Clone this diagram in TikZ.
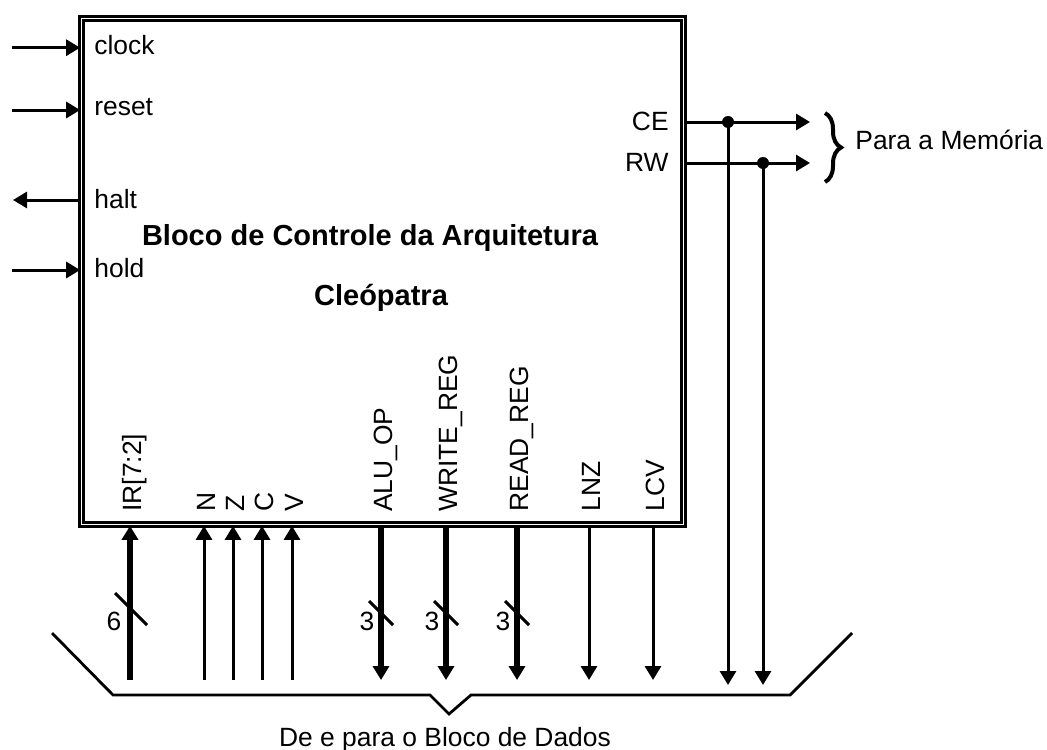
\documentclass[tikz,border=0pt]{standalone}
\usepackage{fontspec}
\setmainfont{Liberation Sans}
\usetikzlibrary{arrows.meta,positioning,calc,decorations.pathreplacing}

\begin{document}
\begin{tikzpicture}[x=0.5pt,y=-0.5pt,font=\fontsize{13.2}{15}\selectfont,
  sig/.style={line width=1.5pt,-{Triangle[length=7pt,width=8pt]}},
  bus/.style={sig,line width=2.8pt},
  lbl/.style={inner sep=0pt},
  vlbl/.style={inner sep=0pt,rotate=90,anchor=base west},
  ttl/.style={inner sep=0pt,anchor=base,font=\fontsize{14.5}{17}\selectfont\bfseries},
  dot/.style={circle,fill,inner sep=0pt,minimum size=6pt},
  tick/.style={line width=1.5pt}]
\useasboundingbox (0,0) rectangle (1047,749);
% control block
\node[draw,double,line width=1.35pt,double distance=0.9pt,inner sep=0pt,
  minimum width=301pt,minimum height=253pt] (ctrl) at (382.5,271.5) {};
\node[ttl] (t1) at (370,245.5) {Bloco de Controle da Arquitetura};
\node[ttl] (t2) at (381,305) {Cleópatra};
% left side
\foreach \y/\b/\nm/\lab in {47.7/55/clk/clock,110/115/rst/reset,270/277/hld/hold} {
  \coordinate (\nm-in) at (12,\y);
  \node[lbl,anchor=base west] (\nm) at (94,\b) {\lab};
  \draw[sig] (\nm-in) -- (\nm-in -| ctrl.west);
}
\coordinate (hlt-out) at (13,200);
\node[lbl,anchor=base west] (hlt) at (94,208) {halt};
\draw[sig] (hlt-out -| ctrl.west) -- (hlt-out);
% memory side
\node[lbl,anchor=base east] (ce) at (669,130) {CE};
\node[lbl,anchor=base east] (rw) at (669,171) {RW};
\coordinate (ce-out) at (810,122);
\coordinate (rw-out) at (810,163);
\draw[sig] (ce-out -| ctrl.east) -- (ce-out);
\draw[sig] (rw-out -| ctrl.east) -- (rw-out);
\node[dot] (dce) at (728,122) {};
\node[dot] (drw) at (763,163) {};
\coordinate (ce-bus) at (728,685);
\coordinate (rw-bus) at (763,685);
\draw[sig] (dce.center) -- (ce-bus);
\draw[sig] (drw.center) -- (rw-bus);
\draw[decorate,decoration={brace,amplitude=8pt},line width=2pt] (825,113) -- (825,182);
\node[lbl,anchor=base west] (mem) at (855,149) {Para a Memória};
% inputs from data block
\coordinate (ir-src) at (130,680);
\draw[bus] (ir-src) -- (ir-src |- ctrl.south);
\node[vlbl] (ir) at (141,512) {IR[7:2]};
\draw[tick] (115,593) -- (147,625);
\node[lbl] (ir-w) at (114,621) {6};
\foreach \x/\nm/\lab in {204/n/N,233/z/Z,262/c/C,292/v/V} {
  \coordinate (\nm-src) at (\x,680);
  \draw[sig] (\nm-src) -- (\nm-src |- ctrl.south);
  \node[vlbl] (\nm) at (\x+11,512) {\lab};
}
% outputs to data block
\foreach \x/\nm/\lab in {381/alu/ALU\_OP,446/wreg/WRITE\_REG,517/rreg/READ\_REG} {
  \coordinate (\nm-dst) at (\x,680);
  \draw[bus] (\nm-dst |- ctrl.south) -- (\nm-dst);
  \node[vlbl] (\nm) at (\x+11,512) {\lab};
  \draw[tick] (\x-12,601) -- (\x+12,625);
  \node[lbl] (\nm-w) at (\x-14,621) {3};
}
\foreach \x/\nm/\lab in {589/lnz/LNZ,653/lcv/LCV} {
  \coordinate (\nm-dst) at (\x,680);
  \draw[sig] (\nm-dst |- ctrl.south) -- (\nm-dst);
  \node[vlbl] (\nm) at (\x+11,512) {\lab};
}
% data block bus
\draw[line width=1.4pt] (52,633) -- (113,695) -- (430,695) -- (449,714)
  -- (471,695) -- (790,695) -- (852,633);
\node[lbl,anchor=base] (data) at (445,746) {De e para o Bloco de Dados};
\end{tikzpicture}
\end{document}
